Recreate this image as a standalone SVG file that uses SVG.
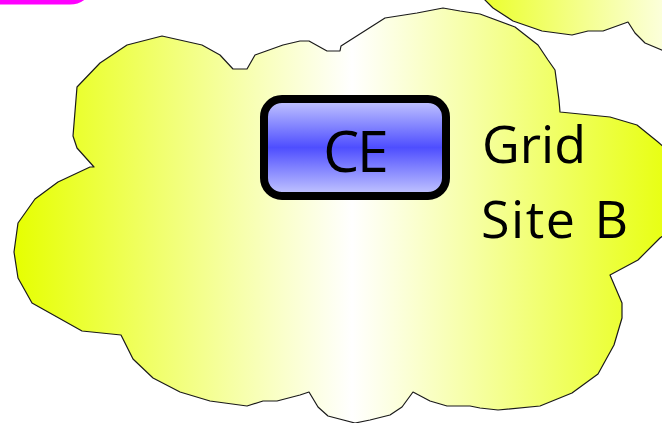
<svg xmlns="http://www.w3.org/2000/svg" width="662" height="423" viewBox="0 0 662 423">
<defs>
<linearGradient id="cloudGrad" gradientUnits="userSpaceOnUse" x1="14" y1="0" x2="690" y2="0">
<stop offset="0" stop-color="#e6ff00"/>
<stop offset="0.5" stop-color="#ffffff"/>
<stop offset="1" stop-color="#e6ff00"/>
</linearGradient>
<linearGradient id="cloud2Grad" gradientUnits="userSpaceOnUse" x1="470" y1="0" x2="700" y2="0">
<stop offset="0" stop-color="#eaff20"/>
<stop offset="1" stop-color="#ffffff"/>
</linearGradient>
<linearGradient id="ceGrad" x1="0" y1="0" x2="0" y2="1">
<stop offset="0" stop-color="#c6c9ff"/>
<stop offset="0.5" stop-color="#4e4eff"/>
<stop offset="1" stop-color="#c6c9ff"/>
</linearGradient>
</defs>
<style>
.cloud{stroke:#1a1a1a;stroke-width:1.2;stroke-linejoin:round}
.label{font-family:"Open Sans","DejaVu Sans",sans-serif;fill:#000}
</style>
<g id="top-left-shape">
<rect x="-100" y="-50" width="192" height="52" rx="22" fill="#ffffff" stroke="#ff00ff" stroke-width="5"/>
</g>
<g id="cloud-top-right">
<polygon class="cloud" fill="url(#cloud2Grad)" points="483,-2 493,8 513,21 542,31 572,35 588,31 603,31 628,22 635,33 645,43 664,51 700,60 700,-5"/>
</g>
<g id="grid-site-b">
<polygon class="cloud" fill="url(#cloudGrad)" points="162,36 202,45 220,55 233,69 247,69 255,55 283,45 300,41 309,41 327,51 340,51 341,46 385,18 417,13 443,8 460,11 480,14 515,27 538,45 548,60 555,70 559,100 560,112 610,117 637,125 658,142 690,170 690,215 660,238 638,260 610,275 622,303 622,318 614,345 598,374 572,393 540,406 498,410 480,408 470,406 447,406 430,401 413,392 402,407 390,415 370,420 355,423 328,416 318,407 309,392 300,395 277,401 263,401 247,406 210,401 180,392 153,378 133,359 121,335 82,331 32,303 18,278 14,252 18,223 35,199 58,182 90,167 94,167 77,148 73,136 77,87 100,63 127,45"/>
<text class="label" x="482" y="163" font-size="52">Grid</text>
<text class="label" x="481" y="238" font-size="52" letter-spacing="1.5" word-spacing="3">Site B</text>
</g>
<g id="ce">
<rect x="264" y="99" width="182" height="97" rx="18" fill="url(#ceGrad)" stroke="#000" stroke-width="8"/>
<text class="label" x="355" y="172" font-size="57" text-anchor="middle" letter-spacing="-2">CE</text>
</g>
<g id="connectors"></g>
</svg>
